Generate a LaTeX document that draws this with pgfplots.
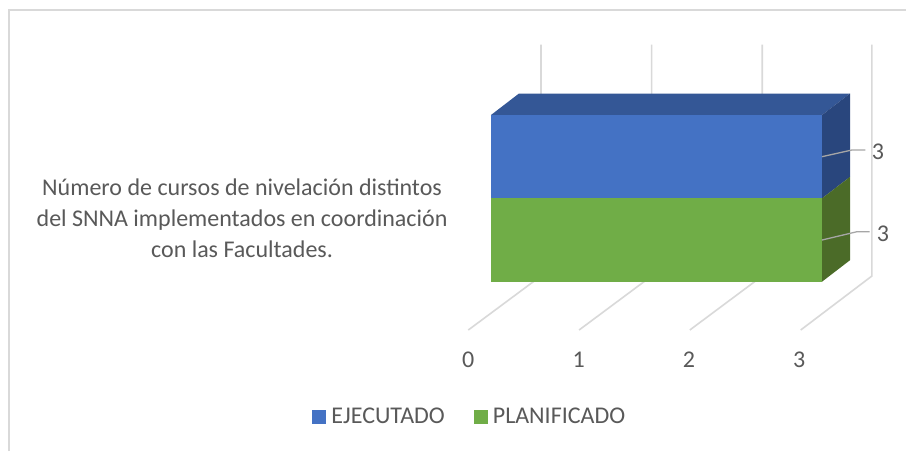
\documentclass[border=0pt]{standalone}
\usepackage{pgfplots}
\pgfplotsset{compat=1.18}
\usepackage{fontspec}
\setmainfont{Carlito}
\definecolor{txt}{HTML}{595959}
\definecolor{grd}{HTML}{D9D9D9}
\definecolor{ldr}{HTML}{A6A6A6}
\definecolor{eje}{HTML}{4472C4}
\definecolor{pla}{HTML}{70AD47}
\definecolor{ejetop}{HTML}{345796}
\definecolor{ejeside}{HTML}{29467D}
\definecolor{plaside}{HTML}{4B6B28}
\begin{document}
\begin{tikzpicture}[x=1pt,y=1pt]
\path[use as bounding box] (0,0) rectangle (906,-451);
\fill[white] (0,0) rectangle (906,-451);
\draw[grd,line width=1.5pt] (9,-451) -- (9,-10) -- (906,-10);
\begin{axis}[
  at={(491pt,-281.7pt)}, anchor=south west,
  scale only axis, width=331pt, height=166.7pt,
  xmin=0, xmax=3, ymin=-1, ymax=1,
  clip=false,
  axis line style={draw=none},
  tick style={draw=none},
  xtick={0,1,2,3},
  ytick={0},
  yticklabels={{Número de cursos de nivelación distintos\\del SNNA implementados en coordinación\\con las Facultades.}},
  /pgf/number format/assume math mode=true,
  tick label style={font=\fontsize{24}{31}\selectfont, text=txt},
  xticklabel style={anchor=center, xshift=-22.7pt, yshift=-78pt},
  yticklabel style={align=center, anchor=east, xshift=-40pt, yshift=-19.6pt},
  legend style={draw=none, fill=none, at={(-0.549,-0.81)}, anchor=west,
    legend columns=2, font=\fontsize{24}{24}\selectfont, text=txt,
    /tikz/every even column/.style={column sep=27pt}},
]
% floor and wall gridlines
\addplot[forget plot, grd, line width=1.6pt] coordinates {(-0.2057,-1.5795) (0.4532,-0.9316) (0.4532,1.844)};
\addplot[forget plot, grd, line width=1.6pt] coordinates {(0.7985,-1.5795) (1.4562,-0.9316) (1.4562,1.844)};
\addplot[forget plot, grd, line width=1.6pt] coordinates {(1.8021,-1.5795) (2.4585,-0.9316) (2.4585,1.844)};
\addplot[forget plot, grd, line width=1.6pt] coordinates {(2.8070,-1.5795) (3.4524,-0.9316) (3.4524,1.844)};
% depth faces
\addplot[forget plot, draw=none, fill=ejetop] coordinates {(0,1) (0.2538,1.258) (3.2538,1.258) (3,1)} -- cycle;
\addplot[forget plot, draw=none, fill=ejeside] coordinates {(3,1) (3.2538,1.258) (3.2538,0.258) (3,0)} -- cycle;
\addplot[forget plot, draw=none, fill=plaside] coordinates {(3,0) (3.2538,0.258) (3.2538,-0.742) (3,-1)} -- cycle;
% bars
\addplot[xbar, draw=none, fill=eje, bar width=83.35pt, bar shift=41.67pt,
  legend image code/.code={\fill[eje] (0pt,-7pt) rectangle (14pt,7pt); \path (17pt,0pt);},
  nodes near coords, nodes near coords style={font=\fontsize{24}{24}\selectfont, text=txt, anchor=center, xshift=56pt, yshift=47pt}]
  coordinates {(3,0)};
\addlegendentry{EJECUTADO}
\addplot[xbar, draw=none, fill=pla, bar width=83.35pt, bar shift=-41.67pt,
  legend image code/.code={\fill[pla] (0pt,-7pt) rectangle (14pt,7pt); \path (17pt,0pt);},
  nodes near coords, nodes near coords style={font=\fontsize{24}{24}\selectfont, text=txt, anchor=center, xshift=61pt, yshift=-35pt}]
  coordinates {(3,0)};
\addlegendentry{PLANIFICADO}
% leader lines
\addplot[forget plot, ldr, line width=1.3pt] coordinates {(3,0.5) (3.272,0.5804) (3.392,0.5804)};
\addplot[forget plot, ldr, line width=1.3pt] coordinates {(3,-0.5) (3.317,-0.4) (3.431,-0.4)};
\end{axis}
\end{tikzpicture}
\end{document}
